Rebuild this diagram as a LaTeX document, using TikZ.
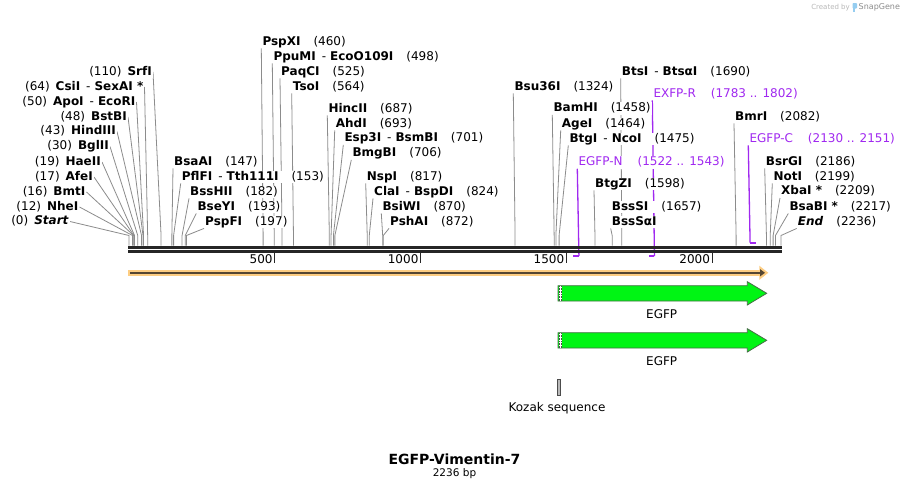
\documentclass[tikz,border=0pt]{standalone}
\usepackage{fontspec}
\setmainfont{DejaVu Sans}
\usepackage{tikz}
\usetikzlibrary{arrows.meta,positioning,calc,backgrounds}
\definecolor{cutgray}{RGB}{140,140,140}
\definecolor{primerpurple}{RGB}{160,40,240}
\definecolor{bandorange}{RGB}{253,205,130}
\definecolor{banddark}{RGB}{85,70,50}
\definecolor{egfpgreen}{RGB}{0,245,20}
\definecolor{egfpedge}{RGB}{70,110,70}
\definecolor{logoblue}{RGB}{150,205,240}
\newcommand{\enzR}[2]{\textbf{#1}\hspace{13pt}(#2)}
\newcommand{\enzL}[2]{(#2)\hspace{6pt}\textbf{#1}}
\newcommand{\isosep}{\hspace{6pt}\mdseries-\hspace{4pt}\bfseries}
\tikzset{
  enz/.style={font=\fontsize{12}{14}\selectfont, fill=white, inner xsep=1pt, inner ysep=0.5pt,
    text height=9pt, text depth=2.5pt},
  enzleft/.style={enz, anchor=east},
  enzright/.style={enz, anchor=west},
  primerlbl/.style={enzright, text=primerpurple},
  cutline/.style={draw=cutgray, line width=0.8pt},
  primerline/.style={draw=primerpurple, line width=1.3pt},
  primerbar/.style={draw=primerpurple, line width=2pt},
  backbone/.style={draw=black!85, line width=3pt},
  bbtick/.style={draw=black!85, line width=1.3pt},
  ticklbl/.style={font=\fontsize{12}{14}\selectfont, inner sep=0pt, anchor=east},
  orfband/.style={draw=bandorange, line width=6pt, -{Triangle[length=9pt,width=13.5pt]}},
  orfline/.style={draw=banddark, line width=2pt, -{Triangle[length=5pt,width=7pt]}},
  egfpbody/.style={fill=egfpgreen, draw=egfpedge, line width=0.8pt},
  featlbl/.style={font=\fontsize{12}{14}\selectfont, inner sep=0pt},
  kozakbox/.style={rectangle, draw=black!70, fill=gray!55, line width=0.6pt,
    minimum width=3.4pt, minimum height=16.7pt, inner sep=0pt}
}

\begin{document}
\begin{tikzpicture}[x=1pt,y=-1pt]
\useasboundingbox (0,0) rectangle (910,490);

% cut sites on the backbone
\foreach \b in {0,12,16,17,19,30,43,48,50,64,110,147,153,182,193,197,460,498,525,564,
  687,693,701,706,817,824,870,872,1324,1458,1464,1475,1598,1657,1690,2082,2186,2199,2209,2217,2236}
  \coordinate (s\b) at ({129+\b*0.29159},245.5);

% backbone and ruler
\coordinate (bbL) at (128,247.3);
\coordinate (bbR) at (781.7,247.3);
\draw[backbone] (bbL) -- (bbR);
\draw[backbone] ([yshift=-4pt]bbL) -- ([yshift=-4pt]bbR);
\foreach \t in {500,1000,1500,2000} {
  \coordinate (t\t) at ({129+\t*0.29159},252);
  \draw[bbtick] (t\t) -- ++(0,11);
  \node[ticklbl] (l\t) at ([xshift=-2pt,yshift=-7pt]t\t) {\t};
}

% left cluster
\node[enzleft] (srfi) at (153,72) {\enzL{SrfI}{110}};
\node[enzleft] (csii) at (144.5,87) {\enzL{CsiI\isosep SexAI *}{64}};
\node[enzleft] (apoi) at (136.5,102) {\enzL{ApoI\isosep EcoRI}{50}};
\node[enzleft] (bstbi) at (128,117) {\enzL{BstBI}{48}};
\node[enzleft] (hindiii) at (117,131.5) {\enzL{HindIII}{43}};
\node[enzleft] (bglii) at (110,146.5) {\enzL{BglII}{30}};
\node[enzleft] (haeii) at (102,162) {\enzL{HaeII}{19}};
\node[enzleft] (afei) at (94,177) {\enzL{AfeI}{17}};
\node[enzleft] (bmti) at (86.5,192) {\enzL{BmtI}{16}};
\node[enzleft] (nhei) at (79.5,207) {\enzL{NheI}{12}};
\node[enzleft] (startl) at (70,221.5) {\enzL{\textit{Start}}{0}};

% second cluster
\node[enzright] (bsaai) at (173,162) {\enzR{BsaAI}{147}};
\node[enzright] (pflfi) at (180.7,177) {\enzR{PflFI\isosep Tth111I}{153}};
\node[enzright] (bsshii) at (189,192) {\enzR{BssHII}{182}};
\node[enzright] (bseyi) at (196.3,207) {\enzR{BseYI}{193}};
\node[enzright] (pspfi) at (204,222) {\enzR{PspFI}{197}};

% middle cluster
\node[enzright] (pspxi) at (261.3,42) {\enzR{PspXI}{460}};
\node[enzright] (ppumi) at (272.3,57) {\enzR{PpuMI\isosep EcoO109I}{498}};
\node[enzright] (paqci) at (280,72) {\enzR{PaqCI}{525}};
\node[enzright] (tsoi) at (291.7,87) {\enzR{TsoI}{564}};
\node[enzright] (hincii) at (327.3,109) {\enzR{HincII}{687}};
\node[enzright] (ahdi) at (334.7,124) {\enzR{AhdI}{693}};
\node[enzright] (esp3i) at (343.3,138.5) {\enzR{Esp3I\isosep BsmBI}{701}};
\node[enzright] (bmgbi) at (351.3,153.5) {\enzR{BmgBI}{706}};
\node[enzright] (nspi) at (365.7,177) {\enzR{NspI}{817}};
\node[enzright] (clai) at (373,192) {\enzR{ClaI\isosep BspDI}{824}};
\node[enzright] (bsiwi) at (381.3,207) {\enzR{BsiWI}{870}};
\node[enzright] (pshai) at (389,222) {\enzR{PshAI}{872}};

% right cluster
\node[enzright] (bsu36i) at (513.3,87) {\enzR{Bsu36I}{1324}};
\node[enzright] (bamhi) at (552.3,108.5) {\enzR{BamHI}{1458}};
\node[enzright] (agei) at (560.7,124) {\enzR{AgeI}{1464}};
\node[enzright] (btgi) at (568.3,139) {\enzR{BtgI\isosep NcoI}{1475}};
\node[primerlbl] (egfpn) at (577.3,162.3) {EGFP-N\hspace{15pt}(1522 .. 1543)};
\node[enzright] (btgzi) at (594,184) {\enzR{BtgZI}{1598}};
\node[enzright] (bsssi) at (610.7,207) {\enzR{BssSI}{1657}};
\node[enzright] (bsssai) at (610.7,222) {\textbf{BssSαI}};
\node[enzright] (btsi) at (620.7,72) {\enzR{BtsI\isosep BtsαI}{1690}};
\node[primerlbl] (exfpr) at (652.3,94) {EXFP-R\hspace{15pt}(1783 .. 1802)};
\node[enzright] (bmri) at (734,117) {\enzR{BmrI}{2082}};
\node[primerlbl] (egfpc) at (748.3,139) {EGFP-C\hspace{15pt}(2130 .. 2151)};
\node[enzright] (bsrgi) at (764.7,162) {\enzR{BsrGI}{2186}};
\node[enzright] (noti) at (772.3,177) {\enzR{NotI}{2199}};
\node[enzright] (xbai) at (780,191.5) {\enzR{XbaI *}{2209}};
\node[enzright] (bsabi) at (788.3,207) {\enzR{BsaBI *}{2217}};
\node[enzright] (endl) at (796.7,222) {\enzR{\textit{End}}{2236}};

% primer ends
\coordinate (pnA) at ({129+1522*0.29159},256);
\coordinate (pnB) at ({129+1543*0.29159},256);
\coordinate (prA) at ({129+1783*0.29159},256);
\coordinate (prB) at ({129+1802*0.29159},256);
\coordinate (pcA) at ({129+2130*0.29159},242.5);
\coordinate (pcB) at ({129+2151*0.29159},242.5);

\begin{pgfonlayer}{background}
  \fill[white] (0,0) rectangle (910,490);
  \foreach \n/\b in {srfi/110,csii/64,apoi/50,bstbi/48,hindiii/43,bglii/30,haeii/19,
    afei/17,bmti/16,nhei/12,startl/0}
    \draw[cutline] (\n.east) -- ([yshift=10pt]s\b) -- (s\b);
  \foreach \n/\b in {bsaai/147,pflfi/153,bsshii/182,bseyi/193,pspfi/197,pspxi/460,
    ppumi/498,paqci/525,tsoi/564,hincii/687,ahdi/693,esp3i/701,bmgbi/706,nspi/817,
    clai/824,bsiwi/870,pshai/872,bsu36i/1324,bamhi/1458,agei/1464,btgi/1475,
    btgzi/1598,bsssai/1657,btsi/1690,bmri/2082,bsrgi/2186,noti/2199,xbai/2209,
    bsabi/2217,endl/2236}
    \draw[cutline] (\n.south west) -- ([yshift=10pt]s\b) -- (s\b);
  \draw[primerline] (egfpn.south west) -- (pnB);
  \draw[primerline] (exfpr.south west) -- (prB);
  \draw[primerline] (egfpc.south west) -- (pcA);
\end{pgfonlayer}
\draw[primerbar] (pnB) -- (pnA);
\draw[primerbar] (prB) -- (prA);
\draw[primerbar] (pcA) -- (pcB);

% full-length feature
\coordinate (orfA) at (128,272.8);
\coordinate (orfB) at (768.3,272.8);
\draw[orfband] (orfA) -- (orfB);
\draw[orfline] ([xshift=2pt]orfA) -- ([xshift=-3.3pt]orfB);

% EGFP features
\foreach \dy/\nm in {0/egfpa,47/egfpb} {
  \begin{scope}[shift={(0,\dy)}]
    \draw[egfpbody] (558,285.7) -- (747.3,285.7) -- (747.3,281.7) -- (766.7,293.3)
      -- (747.3,305) -- (747.3,301) -- (558,301) -- cycle;
    \fill[white] (558.6,286.2) rectangle (562,300.5);
    \draw[black!70, densely dotted, line width=0.6pt] (559.4,286) -- (559.4,301);
    \draw[black!70, densely dotted, line width=0.6pt] (561.2,286) -- (561.2,301);
    \node[featlbl] (\nm) at (661.7,314.3) {EGFP};
  \end{scope}
}

% Kozak
\node[kozakbox] (kozak) at (559,387.3) {};
\node[featlbl] (kozaklbl) at (557,408.3) {Kozak sequence};

% title
\node[font=\fontsize{14}{16}\selectfont\bfseries, inner sep=0pt] (title) at (454.5,459) {EGFP-Vimentin-7};
\node[font=\fontsize{10.5}{12}\selectfont, inner sep=0pt] (bplen) at (454.5,474) {2236 bp};

% credit
\node[font=\fontsize{7}{8}\selectfont, text=black!28, anchor=east, inner sep=0pt] (created) at (850,7.5) {Created by};
\fill[logoblue, rounded corners=0.8pt] (852.5,3) rectangle (857,8.5);
\fill[logoblue] (852.5,3) rectangle (854.5,12);
\node[font=\fontsize{8}{9}\selectfont, text=black!45, anchor=west, inner sep=0pt] (snapgene) at (858.5,7.5) {SnapGene};
\end{tikzpicture}
\end{document}
